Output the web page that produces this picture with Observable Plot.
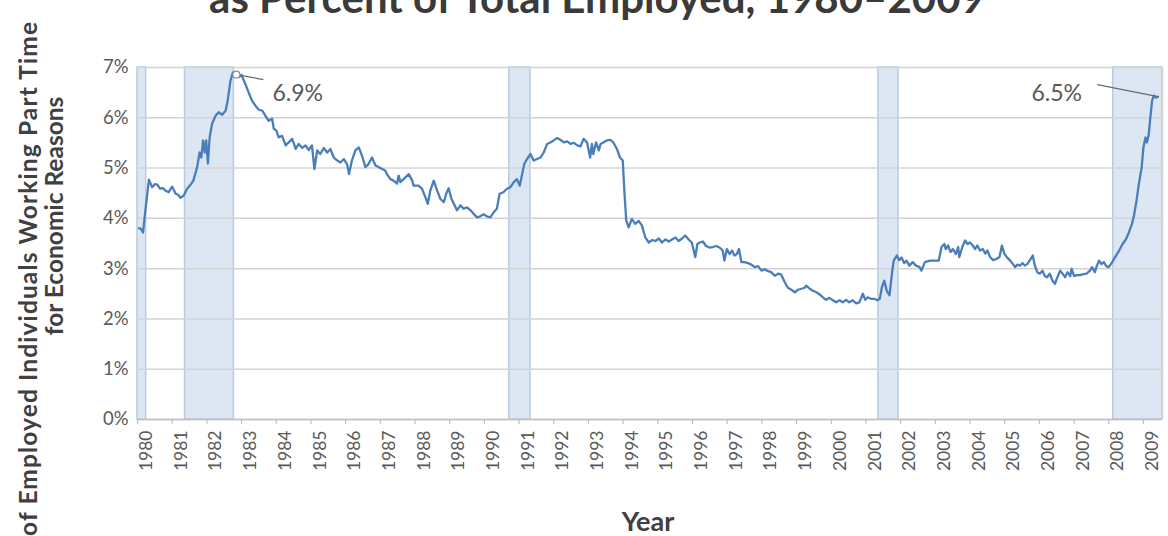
<!DOCTYPE html>
<html><head><meta charset="utf-8">
<script src="https://cdn.jsdelivr.net/npm/d3@7"></script>
<script src="https://cdn.jsdelivr.net/npm/@observablehq/plot@0.6"></script>
<style>
html,body{margin:0;padding:0;background:#fff;overflow:hidden;}
#chart{position:relative;width:1168px;height:536px;overflow:hidden;}
</style></head><body><div id="chart"></div>
<script>
// Month positions (decimal years)
const dates = [
1980.04,1980.09,1980.16,1980.25,1980.33,1980.42,1980.50,1980.57,1980.65,1980.73,1980.81,1980.90,
1981.00,1981.10,1981.17,1981.24,1981.33,1981.43,1981.53,1981.61,1981.72,1981.79,1981.84,1981.89,1981.94,1981.98,
1982.03,1982.08,1982.15,1982.25,1982.34,1982.44,1982.54,1982.60,1982.68,1982.75,1982.80,1982.92,
1983.00,1983.11,1983.20,1983.30,1983.40,1983.50,1983.60,1983.69,1983.78,1983.88,1983.93,
1984.00,1984.07,1984.17,1984.27,1984.36,1984.46,1984.56,1984.65,1984.75,1984.84,1984.94,
1985.03,1985.10,1985.18,1985.27,1985.37,1985.47,1985.56,1985.66,1985.76,1985.85,1985.95,
1986.04,1986.10,1986.18,1986.28,1986.38,1986.47,1986.57,1986.66,1986.76,1986.86,1986.95,
1987.05,1987.14,1987.19,1987.29,1987.38,1987.48,1987.53,1987.58,1987.67,1987.82,1987.92,1987.96,
1988.10,1988.20,1988.30,1988.37,1988.44,1988.54,1988.64,1988.73,1988.83,1988.90,1988.97,
1989.05,1989.12,1989.21,1989.31,1989.40,1989.50,1989.60,1989.69,1989.79,1989.88,1989.98,
1990.07,1990.17,1990.27,1990.36,1990.44,1990.55,1990.65,1990.75,1990.85,1990.94,
1991.02,1991.08,1991.15,1991.23,1991.33,1991.42,1991.52,1991.62,1991.71,1991.81,1991.90,
1992.00,1992.10,1992.20,1992.29,1992.39,1992.48,1992.58,1992.68,1992.77,1992.86,1992.96,
1993.05,1993.10,1993.14,1993.22,1993.30,1993.35,1993.43,1993.53,1993.63,1993.72,1993.82,1993.91,1993.99,
1994.04,1994.09,1994.16,1994.25,1994.35,1994.45,1994.54,1994.64,1994.74,1994.84,1994.93,
1995.03,1995.12,1995.22,1995.32,1995.41,1995.51,1995.60,1995.70,1995.79,1995.89,1995.98,
1996.08,1996.14,1996.21,1996.30,1996.39,1996.49,1996.59,1996.68,1996.78,1996.87,1996.92,1996.99,
1997.07,1997.14,1997.21,1997.28,1997.34,1997.41,1997.50,1997.60,1997.70,1997.79,1997.89,1997.99,
1998.08,1998.18,1998.27,1998.37,1998.47,1998.56,1998.66,1998.75,1998.85,1998.95,
1999.04,1999.14,1999.23,1999.28,1999.38,1999.47,1999.57,1999.66,1999.76,1999.85,1999.95,
2000.05,2000.14,2000.24,2000.33,2000.43,2000.52,2000.62,2000.72,2000.81,2000.91,2000.98,
2001.05,2001.14,2001.24,2001.33,2001.40,2001.46,2001.53,2001.60,2001.68,2001.75,2001.80,2001.89,2001.96,
2002.03,2002.10,2002.17,2002.25,2002.35,2002.44,2002.55,2002.60,2002.70,2002.85,2002.99,
2003.10,2003.18,2003.26,2003.30,2003.37,2003.44,2003.51,2003.59,2003.66,2003.69,2003.78,2003.86,2003.93,
2004.00,2004.08,2004.15,2004.21,2004.29,2004.37,2004.44,2004.50,2004.58,2004.66,2004.76,2004.85,2004.92,2004.99,
2005.06,2005.16,2005.24,2005.30,2005.37,2005.44,2005.52,2005.58,2005.65,2005.72,2005.81,2005.87,2005.94,
2006.01,2006.09,2006.15,2006.22,2006.30,2006.38,2006.45,2006.52,2006.60,2006.67,2006.74,2006.81,2006.89,2006.93,
2007.00,2007.08,2007.17,2007.27,2007.36,2007.46,2007.52,2007.60,2007.66,2007.72,2007.79,2007.86,2007.93,
2008.00,2008.10,2008.21,2008.30,2008.40,2008.50,2008.58,2008.67,2008.73,2008.80,2008.87,2008.95,
2009.00,2009.06,2009.10,2009.15,2009.20,2009.25,2009.30,2009.36,2009.42
];
// Percent of employed working part time for economic reasons
const pct = [
3.80,3.80,3.72,4.30,4.77,4.62,4.68,4.67,4.59,4.60,4.55,4.52,
4.63,4.49,4.47,4.41,4.45,4.59,4.67,4.75,5.02,5.31,5.21,5.55,5.31,5.55,
5.09,5.61,5.88,6.04,6.11,6.06,6.14,6.34,6.74,6.90,6.85,6.81,
6.85,6.67,6.51,6.34,6.24,6.16,6.14,6.04,5.94,5.98,5.78,
5.75,5.61,5.64,5.45,5.51,5.58,5.38,5.48,5.40,5.45,5.36,
5.45,4.98,5.35,5.28,5.40,5.31,5.38,5.21,5.15,5.11,5.18,
5.08,4.88,5.15,5.35,5.41,5.25,5.02,5.08,5.21,5.05,5.02,
4.98,4.95,4.88,4.78,4.75,4.69,4.85,4.72,4.78,4.88,4.75,4.65,
4.65,4.59,4.42,4.29,4.55,4.75,4.55,4.39,4.32,4.49,4.60,
4.39,4.29,4.16,4.26,4.19,4.22,4.16,4.09,4.02,4.04,4.08,
4.04,4.02,4.12,4.19,4.49,4.52,4.59,4.62,4.72,4.78,
4.65,4.85,5.08,5.18,5.28,5.15,5.18,5.21,5.31,5.48,5.51,
5.55,5.60,5.56,5.51,5.53,5.48,5.50,5.45,5.43,5.58,5.51,
5.21,5.48,5.28,5.51,5.35,5.48,5.51,5.55,5.56,5.51,5.38,5.21,5.15,
4.49,3.96,3.82,3.99,3.89,3.95,3.86,3.62,3.52,3.57,3.55,
3.60,3.52,3.58,3.54,3.58,3.62,3.55,3.60,3.66,3.58,3.52,
3.23,3.49,3.52,3.54,3.45,3.42,3.43,3.45,3.42,3.36,3.16,3.39,
3.29,3.36,3.26,3.29,3.39,3.13,3.13,3.11,3.08,3.03,3.05,2.96,
2.99,2.95,2.93,2.86,2.90,2.88,2.73,2.62,2.58,2.53,
2.58,2.60,2.62,2.66,2.60,2.56,2.53,2.49,2.43,2.38,2.42,
2.37,2.33,2.37,2.33,2.38,2.33,2.37,2.31,2.33,2.50,2.38,
2.43,2.40,2.40,2.37,2.40,2.63,2.76,2.56,2.47,2.90,3.16,3.26,3.17,
3.22,3.11,3.16,3.06,3.13,3.06,3.03,2.96,3.13,3.16,3.16,
3.16,3.43,3.49,3.39,3.46,3.33,3.39,3.29,3.43,3.23,3.43,3.56,3.49,
3.52,3.46,3.39,3.46,3.36,3.39,3.30,3.36,3.23,3.17,3.19,3.23,3.46,3.30,
3.23,3.16,3.09,3.03,3.08,3.06,3.11,3.06,3.09,3.16,3.26,3.06,2.93,
2.90,2.96,2.86,2.83,2.90,2.76,2.70,2.83,2.96,2.90,2.83,2.93,2.85,3.00,
2.85,2.87,2.87,2.89,2.90,2.96,3.03,2.93,3.06,3.16,3.09,3.13,3.05,
3.03,3.13,3.26,3.36,3.49,3.59,3.72,3.89,4.06,4.35,4.69,5.02,
5.41,5.61,5.51,5.65,6.01,6.34,6.44,6.40,6.42
];
const recessionStart = [1980.00, 1981.37, 1990.72, 2001.36, 2008.13];
const recessionEnd   = [1980.25, 1982.78, 1991.33, 2001.94, 2009.55];
const yTicks = [0, 1, 2, 3, 4, 5, 6, 7];
const xTickYears = [1980,1981,1982,1983,1984,1985,1986,1987,1988,1989,1990,1991,1992,1993,1994,
  1995,1996,1997,1998,1999,2000,2001,2002,2003,2004,2005,2006,2007,2008,2009];
const annoLabels = ["6.9%", "6.5%"];
const annoPointDate = [1982.85, 2009.42];
const annoPointValue = [6.86, 6.42];
const annoLeaderDate = [1983.63, 2007.67];
const annoLeaderValue = [6.76, 6.66];
const annoTextDate = [1984.62, 2006.50];
const annoTextValue = [6.48, 6.48];

const series = dates.map((d, i) => ({date: d, value: pct[i]}));
const recessions = recessionStart.map((s, i) => ({start: s, end: recessionEnd[i]}));
const annos = annoLabels.map((l, i) => ({label: l, px: annoPointDate[i], py: annoPointValue[i],
  lx: annoLeaderDate[i], ly: annoLeaderValue[i], tx: annoTextDate[i], ty: annoTextValue[i]}));

const font = "Lato, 'Open Sans', sans-serif";
const grey = "#595959";

const chart = Plot.plot({
  width: 1168, height: 536,
  marginTop: 67, marginBottom: 117, marginLeft: 137, marginRight: 6,
  style: {fontFamily: font, background: "#fff", overflow: "visible"},
  x: {domain: [1980, 2009.55], axis: null},
  y: {domain: [0, 7], axis: null},
  marks: [
    Plot.rect(recessions, {x1: "start", x2: "end", fill: "#dde7f3", stroke: "#b8cbe2", strokeWidth: 1.5}),
    Plot.gridY(yTicks, {stroke: "#d3d3d3", strokeOpacity: 1, strokeWidth: 1.5}),
    Plot.ruleX([2009.55], {stroke: "#d3d3d3", strokeWidth: 1.5}),
    Plot.ruleY([0], {stroke: "#bfbfbf", strokeWidth: 1.5}),
    Plot.ruleX(xTickYears, {x: d => d, y1: () => 0, y2: () => -0.1, stroke: "#bfbfbf", strokeWidth: 1.2}),
    Plot.text(yTicks, {y: d => d, frameAnchor: "left", dx: -9, textAnchor: "end", text: d => d + "%", fontSize: 18.5, fill: grey}),
    Plot.text(xTickYears, {x: d => d, frameAnchor: "bottom", dx: 9, dy: 11, rotate: -90, textAnchor: "end", lineAnchor: "middle", text: d => String(d), fontSize: 17.5, fill: grey}),
    Plot.line(series, {x: "date", y: "value", stroke: "#4a7ebb", strokeWidth: 2.3, strokeLinejoin: "round"}),
    Plot.link(annos, {x1: "px", y1: "py", x2: "lx", y2: "ly", stroke: "#6b6b6b", strokeWidth: 1.2}),
    Plot.dot(annos.slice(0, 1), {x: "px", y: "py", r: 3.5, stroke: "#7f8fa6", fill: "#fff", strokeWidth: 1.2}),
    Plot.text(annos, {x: "tx", y: "ty", text: "label", fontSize: 23, fill: grey})
  ]
});

const svg = d3.select(chart);
svg.append("text").attr("x", 597).attr("y", 13).attr("text-anchor", "middle")
  .attr("font-family", font).attr("font-weight", "bold").attr("font-size", 42).attr("fill", "#3a3a3a")
  .text("as Percent of Total Employed, 1980–2009");
svg.append("text").attr("x", 648).attr("y", 531).attr("text-anchor", "middle")
  .attr("font-family", font).attr("font-weight", "bold").attr("font-size", 27).attr("fill", "#404040")
  .text("Year");
svg.append("text").attr("transform", "translate(37,22) rotate(-90)").attr("text-anchor", "end")
  .attr("font-family", font).attr("font-weight", "bold").attr("font-size", 24.5).attr("fill", "#404040")
  .attr("textLength", 514).attr("lengthAdjust", "spacing")
  .text("of Employed Individuals Working Part Time");
svg.append("text").attr("transform", "translate(63,216) rotate(-90)").attr("text-anchor", "middle")
  .attr("font-family", font).attr("font-weight", "bold").attr("font-size", 24.5).attr("fill", "#404040")
  .text("for Economic Reasons");

document.getElementById("chart").appendChild(chart);
</script></body></html>
